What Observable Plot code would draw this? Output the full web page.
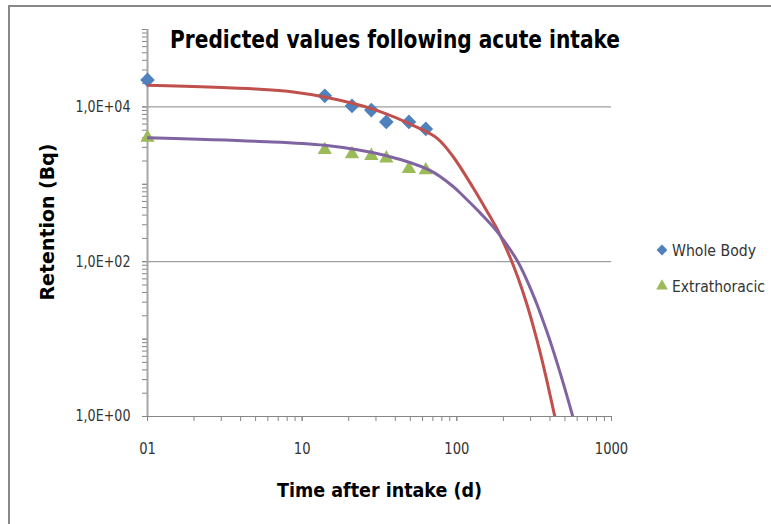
<!DOCTYPE html>
<html>
<head>
<meta charset="utf-8">
<script src="https://cdn.jsdelivr.net/npm/d3@7"></script>
<script src="https://cdn.jsdelivr.net/npm/@observablehq/plot@0.6"></script>
<style>
  html, body { margin: 0; padding: 0; background: #fff; overflow: hidden; }
  #chart { position: relative; width: 771px; height: 524px; overflow: hidden; }
  svg { display: block; }
</style>
</head>
<body>
<div id="chart"></div>
<script>
// ---- data ----
const times = [1, 14, 21, 28, 35, 49, 63];
const wholeBody = [22300, 13900, 10300, 9100, 6400, 6400, 5200];
const extrathoracic = [4000, 2780, 2460, 2330, 2170, 1585, 1520];

const wbCurveTime = [1, 5, 9, 14, 29, 56, 75, 94, 128, 156, 181, 205, 227, 250, 284, 313, 346, 382, 430];
const wbCurve = [19000, 17000, 15500, 13400, 9300, 5400, 3900, 2320, 890, 456, 270, 160, 100, 60, 28, 14.3, 6.7, 2.9, 1];
const etCurveTime = [1, 5, 14, 34, 67, 95, 110, 142, 182, 248, 298, 329, 382, 421, 489, 562];
const etCurve = [4000, 3600, 3190, 2370, 1510, 930, 706, 424, 245, 100, 46, 28.4, 12.5, 7, 2.64, 1];

const xMajorTicks = [1, 10, 100, 1000];
const xTickLabels = ["01", "10", "100", "1000"];
const yMajorTicks = [1, 100, 10000];
const yTickLabels = ["1,0E+00", "1,0E+02", "1,0E+04"];
const seriesNames = ["Whole Body", "Extrathoracic"];

const title = "Predicted values following acute intake";
const xTitle = "Time after intake (d)";
const yTitle = "Retention (Bq)";

// minor ticks (2..9 per decade)
const xMinorTicks = [];
for (const p of [1, 10, 100]) for (let m = 1; m <= 10; m++) xMinorTicks.push(p * m);
const yMinorTicks = [];
for (const p of [1, 10, 100, 1000, 10000]) for (let m = 1; m <= 10; m++) yMinorTicks.push(p * m);

const points = times.map((t, i) => ({t, wb: wholeBody[i], et: extrathoracic[i]}));
const wbLine = wbCurveTime.map((t, i) => ({t, v: wbCurve[i]}));
const etLine = etCurveTime.map((t, i) => ({t, v: etCurve[i]}));

const BLUE = "#4F81BD", GREEN = "#9BBB59", RED = "#C0504D", PURPLE = "#8064A2";
const GRID = "#868686";
const narrow = "'Liberation Sans Narrow', 'DejaVu Sans Condensed', 'Noto Sans', sans-serif";

const chart = Plot.plot({
  width: 771, height: 524,
  marginLeft: 147, marginRight: 160, marginTop: 29, marginBottom: 108,
  x: {type: "log", domain: [1, 1000]},
  y: {type: "log", domain: [1, 1e5]},
  style: {background: "#fff", fontFamily: narrow, color: "#333"},
  marks: [
    Plot.ruleY([100, 10000], {stroke: GRID, strokeWidth: 1}),
    Plot.axisX(xMinorTicks, {tickSize: 5, text: null, stroke: GRID, label: null}),
    Plot.axisX(xMajorTicks, {tickSize: 0, tickPadding: 27, fontSize: 15, label: null,
      tickFormat: d => xTickLabels[xMajorTicks.indexOf(d)], fill: "#333"}),
    Plot.axisY(yMinorTicks, {tickSize: 5, text: null, stroke: GRID, label: null}),
    Plot.axisY(yMajorTicks, {tickSize: 0, tickPadding: 17, fontSize: 15, label: null,
      tickFormat: d => yTickLabels[yMajorTicks.indexOf(d)], fill: "#333"}),
    Plot.ruleY([1], {stroke: GRID, strokeWidth: 1}),
    Plot.ruleX([1], {stroke: "#a6a6a6", strokeWidth: 2}),
    Plot.dot(points, {x: "t", y: "wb", symbol: "diamond2", r: 6.6, fill: BLUE, stroke: "none"}),
    Plot.dot(points, {x: "t", y: "et", symbol: "triangle", r: 5.3, fill: GREEN, stroke: "none"}),
    Plot.line(wbLine, {x: "t", y: "v", stroke: RED, strokeWidth: 3, curve: "catmull-rom", clip: true}),
    Plot.line(etLine, {x: "t", y: "v", stroke: PURPLE, strokeWidth: 3, curve: "catmull-rom", clip: true})
  ]
});
document.getElementById("chart").appendChild(chart);

const svg = d3.select(chart);
function fit(sel, w) {
  sel.attr("textLength", w).attr("lengthAdjust", "spacingAndGlyphs");
}
// stretch tick labels to the reference widths
svg.selectAll('g[aria-label="y-axis tick label"] text').each(function () { fit(d3.select(this), 55); });
svg.selectAll('g[aria-label="x-axis tick label"] text').each(function () {
  const s = d3.select(this); fit(s, 8.35 * s.text().length);
});

// outer frame (left and top edges visible)
svg.append("path").attr("d", "M9,524V6H771").attr("fill", "none").attr("stroke", "#888").attr("stroke-width", 2);

// title
fit(svg.append("text").attr("x", 395).attr("y", 48).attr("text-anchor", "middle")
  .attr("font-family", narrow).attr("font-weight", "bold").attr("font-size", 25).attr("fill", "#000").text(title), 450);
// x title
fit(svg.append("text").attr("x", 379.5).attr("y", 497).attr("text-anchor", "middle")
  .attr("font-family", narrow).attr("font-weight", "bold").attr("font-size", 20).attr("fill", "#000").text(xTitle), 205);
// y title
fit(svg.append("text").attr("transform", "translate(53.5,222) rotate(-90)").attr("text-anchor", "middle")
  .attr("font-family", "'DejaVu Sans', sans-serif")
  .attr("font-weight", "bold").attr("font-size", 19).attr("fill", "#000").text(yTitle), 157);

// legend
const legend = svg.append("g").attr("font-family", narrow).attr("font-size", 15).attr("fill", "#333")
  .attr("text-anchor", "start");
const legendSymbols = [d3.symbolDiamond2, d3.symbolTriangle];
const legendColors = [BLUE, GREEN];
const legendY = [250, 286];
seriesNames.forEach((name, i) => {
  legend.append("path").attr("transform", `translate(662,${legendY[i]})`)
    .attr("d", d3.symbol(legendSymbols[i], i === 0 ? 75 : 60)()).attr("fill", legendColors[i]);
  const t = legend.append("text").attr("x", 672).attr("y", legendY[i] + 5.5).text(name);
  fit(t, i === 0 ? 84 : 93);
});
</script>
</body>
</html>
